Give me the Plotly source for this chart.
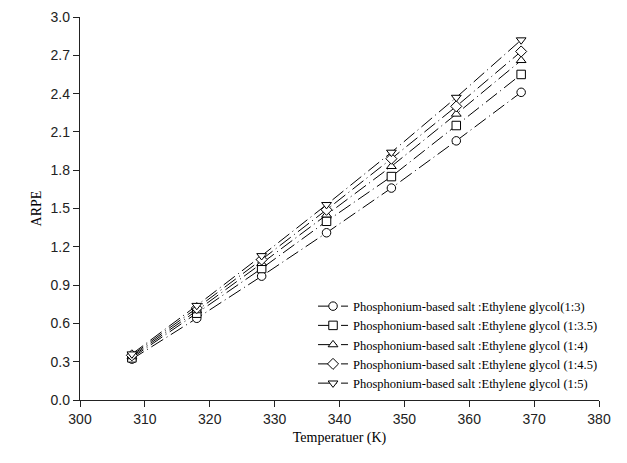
import plotly.graph_objects as go

temps = [308, 318, 328, 338, 348, 358, 368]
names = [
    "Phosphonium-based salt :Ethylene glycol(1:3)",
    "Phosphonium-based salt :Ethylene glycol (1:3.5)",
    "Phosphonium-based salt :Ethylene glycol (1:4)",
    "Phosphonium-based salt :Ethylene glycol (1:4.5)",
    "Phosphonium-based salt :Ethylene glycol (1:5)",
]
arpe_1_3 = [0.32, 0.64, 0.97, 1.31, 1.66, 2.03, 2.41]
arpe_1_3_5 = [0.33, 0.68, 1.03, 1.40, 1.75, 2.15, 2.55]
arpe_1_4 = [0.34, 0.70, 1.07, 1.45, 1.83, 2.24, 2.66]
arpe_1_4_5 = [0.35, 0.72, 1.10, 1.49, 1.89, 2.30, 2.73]
arpe_1_5 = [0.36, 0.74, 1.13, 1.53, 1.94, 2.37, 2.82]
series = [arpe_1_3, arpe_1_3_5, arpe_1_4, arpe_1_4_5, arpe_1_5]
symbols = ["circle", "square", "triangle-up", "diamond", "triangle-down"]

fig = go.Figure()
for name, ys, sym in zip(names, series, symbols):
    fig.add_trace(go.Scatter(
        x=temps, y=ys, name=name, mode="lines+markers",
        line=dict(color="black", width=1, dash="14px,4px,1px,4px"),
        marker=dict(symbol=sym, size=8.5, color="white", line=dict(width=1, color="black")),
    ))

# page body adds an 8px offset, so the figure is sized to fit the 627x463 window
fig.update_layout(
    width=619, height=455,
    margin=dict(l=72, r=28, t=9, b=63),
    plot_bgcolor="white", paper_bgcolor="white",
    showlegend=True,
    legend=dict(x=0.449, y=0.1436, xanchor="left", yanchor="middle",
                font=dict(family="Liberation Serif", size=12.5, color="black"),
                bgcolor="rgba(0,0,0,0)", tracegroupgap=0, itemsizing="trace"),
    font=dict(family="Liberation Sans", size=14, color="#222"),
)
fig.update_xaxes(range=[300, 380], dtick=10, tick0=300, showline=True, linecolor="#222",
                 linewidth=1.3, ticks="outside", ticklen=6, tickcolor="#222", showgrid=False,
                 zeroline=False, mirror=False, automargin=False,
                 title=dict(text="Temperatuer (K)",
                            font=dict(family="Liberation Serif", size=14, color="black"),
                            standoff=6))
fig.update_yaxes(range=[0, 3.0], dtick=0.3, tick0=0, tickformat=".1f", showline=True,
                 linecolor="#222", linewidth=1.3, ticks="outside", ticklen=6, tickcolor="#222",
                 showgrid=False, zeroline=False, automargin=False,
                 title=dict(text="ARPE", font=dict(family="Liberation Serif", size=14, color="black"),
                            standoff=5))

fig.write_html("out.html")
